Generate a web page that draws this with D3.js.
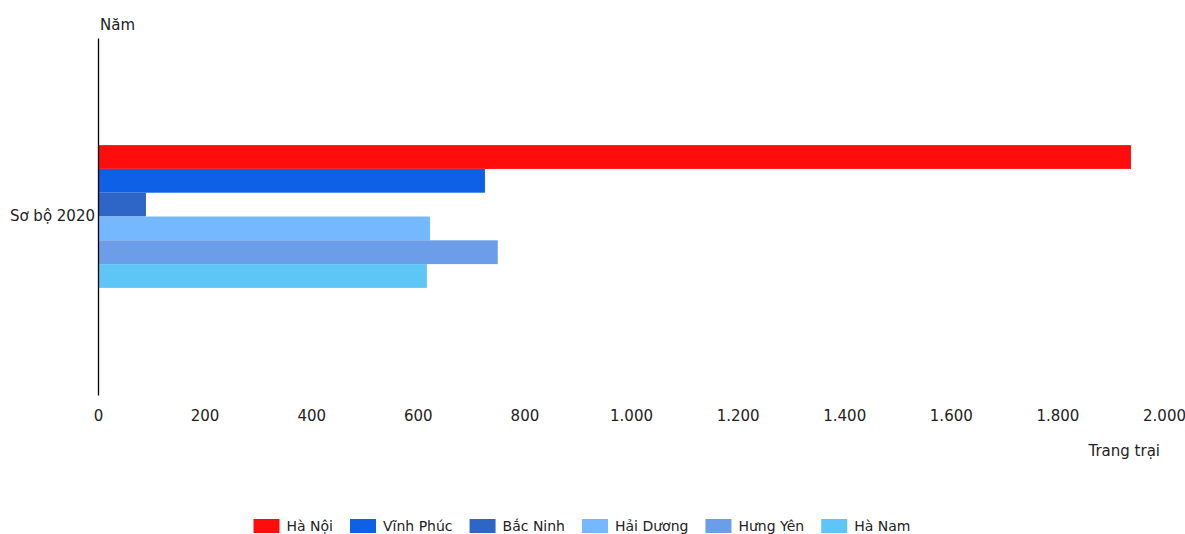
<!DOCTYPE html>
<html>
<head>
	<meta charset="UTF-8" />
	<title>trang trai</title>
	<script src="https://d3js.org/d3.v7.min.js"></script>
	<style type="text/css">
		body{margin:0; background:#fff;}
		text{font-family: "DejaVu Sans", Verdana, sans-serif; fill:#222;}
	</style>
</head>
<body>
	<svg id="chart"></svg>

	<script type="text/javascript">
	// data
	var categories = ["Sơ bộ 2020"]
	var provinces = ["Hà Nội", "Vĩnh Phúc", "Bắc Ninh", "Hải Dương", "Hưng Yên", "Hà Nam"]
	var values = [1938, 726, 90, 623, 750, 617]
	var colors = ["#ff0d0d", "#0e60e6", "#2e66c8", "#75b8ff", "#6b9de8", "#5ec6f6"]
	var xTicks = [0, 200, 400, 600, 800, 1000, 1200, 1400, 1600, 1800, 2000]

	// window
	var w = 1185
	var h = 534
	var margin = {top: 38, right: 21, bottom: 139, left: 98}
	var width = w - margin.left - margin.right
	var height = h - margin.top - margin.bottom

	var svg = d3.select("#chart")
				.attr("width", w)
				.attr("height", h)
	var g = svg.append("g")
				.attr("transform", "translate("+margin.left+","+margin.top+")")

	// scales
	var xScale = d3.scaleLinear().domain([0, 2000]).range([0, width])
	var yScale = d3.scaleBand().domain(categories).range([0, height]).paddingInner(0).paddingOuter(0.75)
	var subScale = d3.scaleBand().domain(provinces).range([0, yScale.bandwidth()])

	var fmt = d => d3.format(",")(d).replace(/,/g, ".")

	// bars
	var rows = provinces.map((p, i) => ({name: p, value: values[i], color: colors[i]}))
	g.selectAll(".bar")
		.data(rows)
		.enter()
		.append("rect")
		.attr("class", "bar")
		.attr("x", 0)
		.attr("y", d => yScale(categories[0]) + subScale(d.name))
		.attr("width", d => xScale(d.value))
		.attr("height", subScale.bandwidth())
		.attr("fill", d => d.color)

	// x axis (labels only)
	var xAxis = g.append("g")
		.attr("transform", "translate(0,"+height+")")
		.call(d3.axisBottom(xScale).tickValues(xTicks).tickFormat(fmt).tickSize(0).tickPadding(15))
	xAxis.select(".domain").remove()
	xAxis.selectAll("text").style("font-size", "15px").attr("font-family", null)

	// y axis
	var yAxis = g.append("g")
		.call(d3.axisLeft(yScale).tickSize(0).tickPadding(3))
	yAxis.select(".domain").attr("stroke", "#000").attr("stroke-width", 1.3)
	yAxis.selectAll("text").style("font-size", "15px").attr("font-family", null)

	// axis titles
	g.append("text")
		.attr("x", 2)
		.attr("y", -8)
		.style("font-size", "15px")
		.text("Năm")
	g.append("text")
		.attr("x", width - 4)
		.attr("y", height + 61)
		.attr("text-anchor", "end")
		.style("font-size", "15px")
		.text("Trang trại")

	// legend
	var legend = svg.append("g").attr("transform", "translate(0,519)")
	var lx = 0
	var gap = 17
	rows.forEach(d => {
		var it = legend.append("g").attr("transform", "translate("+lx+",0)")
		it.append("rect").attr("width", 26).attr("height", 14).attr("fill", d.color)
		var t = it.append("text").attr("x", 33).attr("y", 12).style("font-size", "14px").text(d.name)
		lx += 33 + t.node().getComputedTextLength() + gap
	})
	var total = lx - gap
	legend.attr("transform", "translate("+(582 - total/2)+",519)")
	</script>
</body>
</html>
